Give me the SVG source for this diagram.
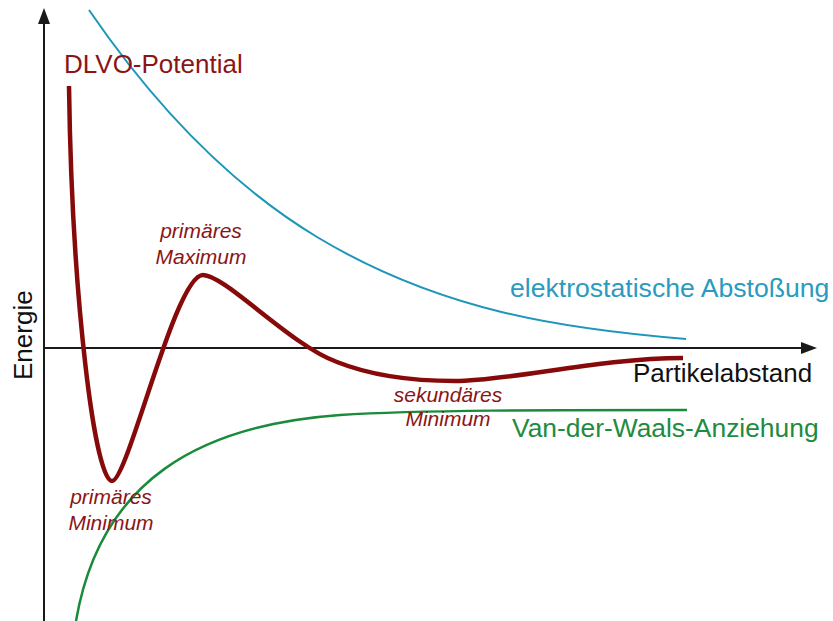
<svg xmlns="http://www.w3.org/2000/svg" width="833" height="621" viewBox="0 0 833 621">
  <style>
    text { font-family: "Liberation Sans", Arial, sans-serif; }
    .big { font-size: 26px; }
    .ital { font-size: 21px; font-style: italic; fill: #8B1515; text-anchor: middle; }
    .axis { stroke: #1a1a1a; stroke-width: 2; fill: none; }
    .head { fill: #1a1a1a; }
    .curve { fill: none; stroke-linecap: butt; stroke-linejoin: round; }
  </style>
  <rect width="833" height="621" fill="#ffffff"/>

  <g id="axes">
    <line class="axis" x1="44" y1="621" x2="44" y2="20"/>
    <polygon class="head" points="44,8 38,24 50,24"/>
    <line class="axis" x1="44" y1="348" x2="805" y2="348"/>
    <polygon class="head" points="817,348 801,342 801,354"/>
  </g>

  <g id="curves">
    <path id="repulsion" class="curve" stroke="#1E96BA" stroke-width="2"
      d="M89,10 C165,121 241,191 317,237 C440,311 563,329 686,339"/>
    <path id="attraction" class="curve" stroke="#1A8B3A" stroke-width="2.5"
      d="M76,621 C100,480 200,425 340,415 C420,410 550,410 687,410"/>
    <path id="dlvo" class="curve" stroke="#870A0A" stroke-width="4.5"
      d="M69,86 C72,300 95,481 112,481 C128,481 175,275 203,275 C225,275 290,345 337,362 C377,378 420,381 455,381 C510,381 600,358 683,358"/>
  </g>

  <g id="labels">
    <text class="big" x="64" y="73" font-size="26.3" fill="#8B1515">DLVO-Potential</text>
    <text class="big" x="510" y="297" style="font-size:26.6px" fill="#2A9BC0">elektrostatische Abstoßung</text>
    <text class="big" x="633" y="382" fill="#111111">Partikelabstand</text>
    <text class="big" x="512" y="437" style="font-size:26.4px" fill="#1E8B3E">Van-der-Waals-Anziehung</text>
    <text class="big" transform="translate(32,380) rotate(-90)" fill="#111111">Energie</text>
    <text class="ital" x="201" y="238">primäres</text>
    <text class="ital" x="201" y="264">Maximum</text>
    <text class="ital" x="111" y="504">primäres</text>
    <text class="ital" x="111" y="530">Minimum</text>
    <text class="ital" x="448" y="402">sekundäres</text>
    <text class="ital" x="448" y="426">Minimum</text>
  </g>
</svg>
